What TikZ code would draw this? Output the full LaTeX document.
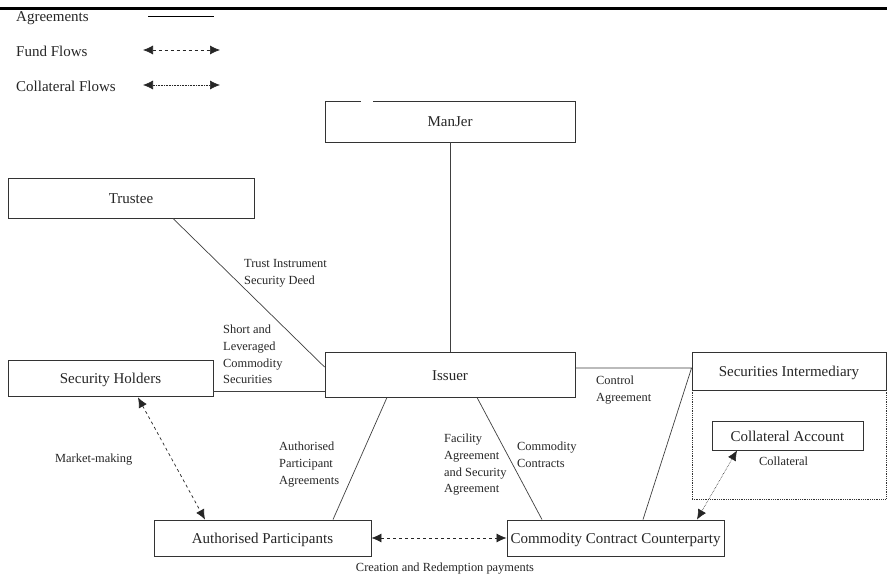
\documentclass[tikz,border=0pt]{standalone}
\usepackage{fontspec}
\setmainfont{Liberation Serif}
\usetikzlibrary{arrows.meta,calc}
\begin{document}
\begin{tikzpicture}[x=1pt,y=-1pt,
  box/.style={draw=black!80,line width=0.9pt,inner sep=0pt,font=\fontsize{15}{17}\selectfont,text=black!85,text height=12.5pt,text depth=1.5pt},
  lbl/.style={anchor=north west,inner sep=0pt,align=left,font=\fontsize{12.4}{16.7}\selectfont,text=black!85},
  lgd/.style={anchor=west,inner sep=0pt,font=\fontsize{15}{17}\selectfont,text=black!85},
  agr/.style={draw=black!75,line width=0.7pt},
  fund/.style={draw=black!85,line width=0.7pt,dashed,{Latex[length=10pt,width=9pt]}-{Latex[length=10pt,width=9pt]}},
  coll/.style={draw=black!85,line width=0.6pt,densely dotted,{Latex[length=10pt,width=9pt]}-{Latex[length=10pt,width=9pt]}}
]
\useasboundingbox (0,0) rectangle (887,578);
\fill[white] (0,0) rectangle (887,578);
% top rule
\draw[line width=3pt] (0,8.5) -- (887,8.5);
% legend
\node[lgd] (lagr) at (16,18.5) {Agreements};
\node[lgd] (lfund) at (16,51.5) {Fund Flows};
\node[lgd] (lcoll) at (16,86) {Collateral Flows};
\coordinate (a1) at (148,16); \coordinate (a2) at (214,16);
\coordinate (f1) at (143,50); \coordinate (f2) at (220,50);
\coordinate (c1) at (143,85); \coordinate (c2) at (220,85);
\draw[agr,draw=black] (a1) -- (a2);
\draw[fund] (f1) -- (f2);
\draw[coll] (c1) -- (c2);
% boxes
\node[box,minimum width=250pt,minimum height=41pt] (manjer) at (450,121.5) {ManJer};
\draw[white,line width=2pt] (361,101) -- (373,101);
\node[box,minimum width=246pt,minimum height=40pt] (trustee) at (131,198) {Trustee};
\node[box,minimum width=205pt,minimum height=36pt] (holders) at (110.5,378) {Security Holders};
\node[box,minimum width=250pt,minimum height=45pt] (issuer) at (450,374.5) {Issuer};
\node[box,minimum width=194pt,minimum height=38pt] (secint) at (789,371) {Securities Intermediary};
\node[draw=black!80,densely dotted,line width=0.8pt,minimum width=194pt,minimum height=109pt,inner sep=0pt] (secarea) at (789,444.5) {};
\node[box,minimum width=151pt,minimum height=29pt] (collacc) at (787.5,435.5) {Collateral Account};
\node[box,minimum width=217pt,minimum height=36pt] (ap) at (262.5,538) {Authorised Participants};
\node[box,minimum width=217pt,minimum height=36pt] (ccc) at (615.5,538) {Commodity Contract Counterparty};
% agreements
\draw[agr] (manjer.south) -- (issuer.north);
\draw[agr] ([xshift=42pt]trustee.south) -- ([yshift=7.5pt]issuer.west);
\draw[agr] ([yshift=-13pt]holders.east) -- ([yshift=-16.5pt]issuer.west);
\draw[agr] ([xshift=-63pt]issuer.south) -- ([xshift=70.5pt]ap.north);
\draw[agr] ([xshift=27pt]issuer.south) -- ([xshift=-73.5pt]ccc.north);
\draw[agr] ([yshift=6.5pt]issuer.east) -- ([yshift=3pt]secint.west) -- ([xshift=27.5pt]ccc.north);
% flows
\draw[fund] ([xshift=27.5pt,yshift=-1pt]holders.south) -- ([xshift=-57.5pt]ap.north);
\draw[fund] (ap.east) -- (ccc.west);
\draw[coll] ([xshift=81.5pt]ccc.north) -- ([xshift=-50.5pt]collacc.south);
% labels
\node[lbl] (ltrust) at (244,259) {Trust Instrument\\Security Deed};
\node[lbl] (lshort) at (223,325) {Short and\\Leveraged\\Commodity\\Securities};
\node[lbl] (lapa) at (279,442) {Authorised\\Participant\\Agreements};
\node[lbl] (lfac) at (444,434) {Facility\\Agreement\\and Security\\Agreement};
\node[lbl] (lcc) at (517,442) {Commodity\\Contracts};
\node[lbl] (lctrl) at (596,376) {Control\\Agreement};
\node[lbl] (lcol) at (759,457) {Collateral};
\node[lbl] (lmm) at (55,454) {Market-making};
\node[lbl,anchor=north] (lcr) at (445,563) {Creation and Redemption payments};
\end{tikzpicture}
\end{document}
